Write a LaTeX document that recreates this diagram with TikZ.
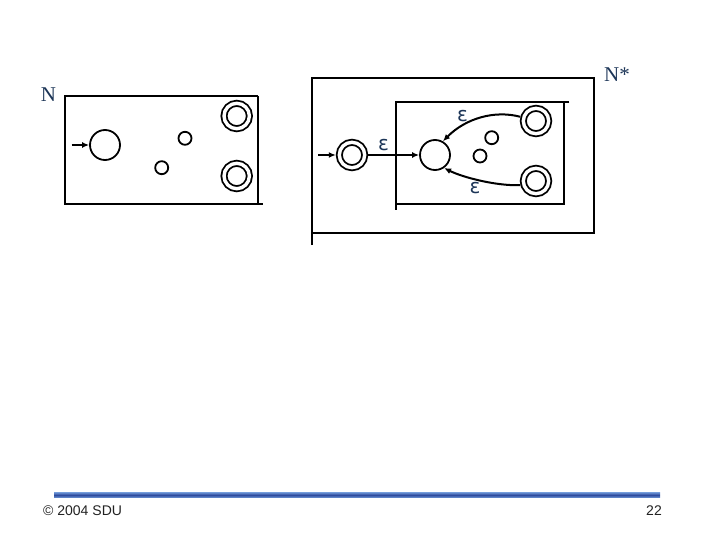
\documentclass[tikz,border=0pt]{standalone}
\usepackage{fontspec}
\setmainfont{Liberation Serif}
\newfontfamily\footfont{Liberation Sans}
\newfontfamily\epsfont{DejaVu Sans}
\usetikzlibrary{arrows.meta,calc,positioning}
\definecolor{ink}{HTML}{000000}
\definecolor{labelnavy}{HTML}{1C3557}
\definecolor{footgray}{HTML}{222222}
\definecolor{barlight}{HTML}{6E96D6}
\definecolor{bardark}{HTML}{2E4C9E}
\tikzset{
  boxline/.style={draw=ink,line width=2pt},
  transarr/.style={-{Latex[length=7pt,width=6pt]},line width=2pt,draw=ink},
  state/.style={circle,draw=ink,line width=1.8pt,inner sep=0pt,minimum size=30pt},
  smallstate/.style={circle,draw=ink,line width=1.8pt,inner sep=0pt,minimum size=13pt},
  accstate/.style={circle,draw=ink,line width=1.8pt,double,double distance=3.4pt,
    inner sep=0pt,minimum size=25.4pt,outer sep=3.5pt},
  namelabel/.style={font=\fontsize{21}{21}\selectfont,text=labelnavy,inner sep=0pt},
  epslabel/.style={font=\epsfont\fontsize{20}{20}\selectfont,text=labelnavy,inner sep=0pt},
  footlabel/.style={font=\footfont\fontsize{14}{14}\selectfont,text=footgray,inner sep=0pt}
}
\begin{document}
\begin{tikzpicture}[x=1pt,y=-1pt,>=Latex]
  \useasboundingbox (0,0) rectangle (720,540);
  % automaton N
  \node[namelabel] (nlab) at (48.5,95) {N};
  \draw[boxline] (258,96) -- (65,96) -- (65,204) -- (263,204);
  \draw[boxline] (258,96) -- (258,204);
  \node[state] (n0) at (105,145) {};
  \node[smallstate] (n1) at (185,138.3) {};
  \node[smallstate] (n2) at (161.7,167.7) {};
  \node[accstate] (nf1) at (236.7,116) {};
  \node[accstate] (nf2) at (236.7,176) {};
  \coordinate (nin) at (71.7,145);
  \draw[transarr] (nin) -- (n0);
  % automaton N*
  \node[namelabel] (slab) at (617,75) {N*};
  \draw[boxline] (312.3,245) -- (312.3,78.3) -- (594,78.3) -- (594,233.3) -- (312.3,233.3);
  \draw[boxline] (569.3,101.7) -- (396,101.7) -- (396,210);
  \draw[boxline] (564.3,101.7) -- (564.3,204) -- (396,204);
  \node[accstate] (s0) at (352,155) {};
  \node[state] (m0) at (435,155) {};
  \node[smallstate] (m1) at (491.7,137.7) {};
  \node[smallstate] (m2) at (480,156) {};
  \node[accstate] (mf1) at (536,121) {};
  \node[accstate] (mf2) at (536,181) {};
  \coordinate (sin) at (318,155);
  \draw[transarr] (sin) -- (s0);
  \draw[transarr] (s0) -- (m0);
  \draw[transarr] (mf1.165) .. controls (495,110) and (466,118) .. (m0.60);
  \draw[transarr] (mf2.195) .. controls (495,186) and (462,177) .. (m0.-55);
  \node[epslabel] (e0) at (383.5,144.7) {ε};
  \node[epslabel] (e1) at (462.5,116) {ε};
  \node[epslabel] (e2) at (475,188) {ε};
  % footer
  \shade[top color=barlight,bottom color=barlight,middle color=bardark]
    (54,492.3) rectangle (660,497.7);
  \node[footlabel,anchor=base west] (copy) at (43,515) {© 2004 SDU};
  \node[footlabel,anchor=base east] (page) at (662,515) {22};
\end{tikzpicture}
\end{document}
